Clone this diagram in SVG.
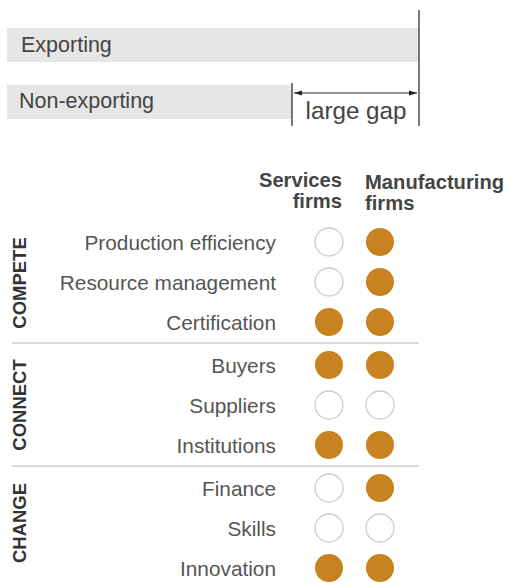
<svg xmlns="http://www.w3.org/2000/svg" width="511" height="583" viewBox="0 0 511 583">
<style>
text{font-family:"Liberation Sans",Arial,sans-serif}
.bar{fill:#e6e6e6}
.lbl{font-size:20.8px;fill:#555;text-anchor:end}
.hdr{font-size:20.2px;font-weight:bold;fill:#444}
.cat{font-size:18.5px;font-weight:bold;fill:#333;text-anchor:middle}
.on{fill:#c8821f}
.off{fill:#fff;stroke:#ccc;stroke-width:1.3}
.sep{stroke:#ccc;stroke-width:1.3}
.ax{stroke:#222;stroke-width:1.2;fill:none}
</style>
<defs>
<marker id="ah" viewBox="0 0 10 10" refX="10" refY="5" markerWidth="7" markerHeight="7" orient="auto-start-reverse">
<path d="M0,2 L10,5 L0,8 Z" fill="#222"/>
</marker>
</defs>
<g id="bars">
<rect class="bar" x="7" y="28" width="412" height="34"/>
<text x="21" y="52" font-size="21.5" fill="#444">Exporting</text>
<rect class="bar" x="7" y="85" width="285" height="34"/>
<text x="19" y="108" font-size="21.5" fill="#444">Non-exporting</text>
</g>
<g id="connectors">
<line class="ax" x1="419" y1="10" x2="419" y2="126"/>
<line class="ax" x1="292" y1="83" x2="292" y2="126"/>
<line class="ax" x1="294" y1="93" x2="417" y2="93" marker-start="url(#ah)" marker-end="url(#ah)"/>
</g>
<text x="356" y="119" font-size="24.2" fill="#444" text-anchor="middle">large gap</text>
<g id="headers">
<text class="hdr" x="342" y="187" text-anchor="end">Services</text>
<text class="hdr" x="342" y="207.5" text-anchor="end">firms</text>
<text class="hdr" x="365" y="189">Manufacturing</text>
<text class="hdr" x="365" y="209.5">firms</text>
</g>
<g id="separators">
<line class="sep" x1="12" y1="343" x2="419" y2="343"/>
<line class="sep" x1="12" y1="466" x2="419" y2="466"/>
</g>
<g id="categories">
<text class="cat" transform="translate(25.5,283) rotate(-90)">COMPETE</text>
<text class="cat" transform="translate(25.5,405) rotate(-90)">CONNECT</text>
<text class="cat" transform="translate(25.5,523) rotate(-90)">CHANGE</text>
</g>
<g id="rows">
<g id="r1"><text class="lbl" x="276" y="250">Production efficiency</text><circle class="off" cx="329" cy="242" r="14"/><circle class="on" cx="380" cy="242" r="14"/></g>
<g id="r2"><text class="lbl" x="276" y="290">Resource management</text><circle class="off" cx="329" cy="282" r="14"/><circle class="on" cx="380" cy="282" r="14"/></g>
<g id="r3"><text class="lbl" x="276" y="330">Certification</text><circle class="on" cx="329" cy="322" r="14"/><circle class="on" cx="380" cy="322" r="14"/></g>
<g id="r4"><text class="lbl" x="276" y="373">Buyers</text><circle class="on" cx="329" cy="365" r="14"/><circle class="on" cx="380" cy="365" r="14"/></g>
<g id="r5"><text class="lbl" x="276" y="413">Suppliers</text><circle class="off" cx="329" cy="405" r="14"/><circle class="off" cx="380" cy="405" r="14"/></g>
<g id="r6"><text class="lbl" x="276" y="453">Institutions</text><circle class="on" cx="329" cy="445" r="14"/><circle class="on" cx="380" cy="445" r="14"/></g>
<g id="r7"><text class="lbl" x="276" y="496">Finance</text><circle class="off" cx="329" cy="488" r="14"/><circle class="on" cx="380" cy="488" r="14"/></g>
<g id="r8"><text class="lbl" x="276" y="536">Skills</text><circle class="off" cx="329" cy="528" r="14"/><circle class="off" cx="380" cy="528" r="14"/></g>
<g id="r9"><text class="lbl" x="276" y="576">Innovation</text><circle class="on" cx="329" cy="568" r="14"/><circle class="on" cx="380" cy="568" r="14"/></g>
</g>
</svg>
